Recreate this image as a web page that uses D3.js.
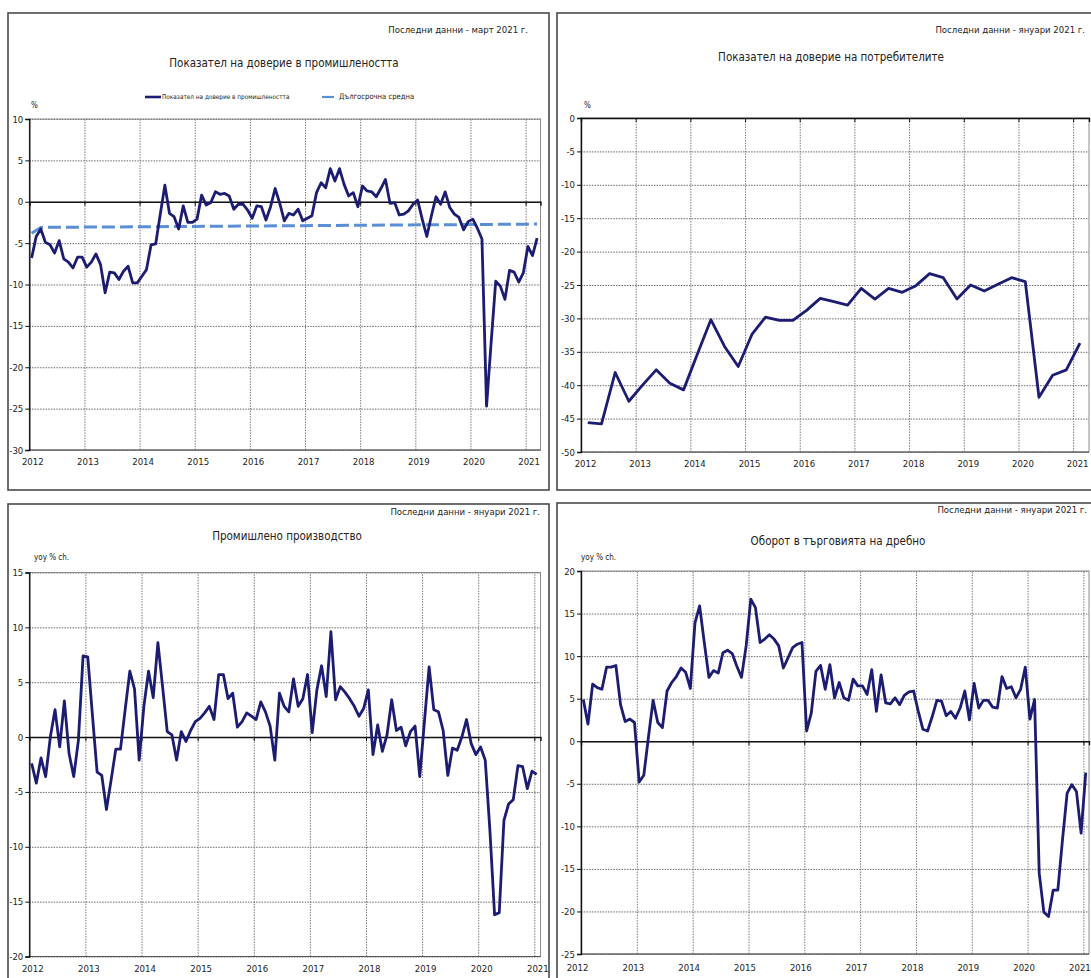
<!DOCTYPE html>
<html>
<head>
<meta charset="utf-8">
<script src="https://cdn.jsdelivr.net/npm/d3@7"></script>
<style>
  body { margin: 0; background: #fff; }
  svg { display: block; }
  text { font-family: "DejaVu Sans Condensed", "DejaVu Sans", sans-serif; fill: #222; }
</style>
</head>
<body>
<svg id="chart" width="1091" height="978"></svg>
<script>
// Tick labels on the time axis
const yearTicks = [2012, 2013, 2014, 2015, 2016, 2017, 2018, 2019, 2020, 2021];

// Business confidence in industry, monthly, Jan 2012 - Mar 2021
const industryConfidence = [
  -6.8, -4.2, -3.3, -4.9, -5.2, -6.2, -4.7, -6.9, -7.3, -8.0, -6.7, -6.7,
  -7.9, -7.3, -6.3, -7.6, -11.0, -8.5, -8.6, -9.4, -8.4, -7.8, -9.8, -9.8,
  -9.0, -8.2, -5.2, -5.1, -1.5, 2.0, -1.4, -1.8, -3.3, -0.5, -2.5, -2.5,
  -2.1, 0.8, -0.4, -0.1, 1.2, 0.9, 1.0, 0.7, -0.9, -0.3, -0.3, -1.0,
  -2.0, -0.5, -0.6, -2.2, -0.6, 1.6, -0.2, -2.3, -1.4, -1.6, -0.9, -2.3,
  -2.0, -1.7, 1.1, 2.3, 1.7, 4.0, 2.5, 4.0, 2.1, 0.7, 1.1, -0.6,
  1.9, 1.3, 1.2, 0.6, 1.6, 2.7, -0.2, -0.1, -1.6, -1.5, -1.1, -0.3,
  0.2, -2.1, -4.2, -1.7, 0.6, -0.3, 1.2, -0.7, -1.5, -1.9, -3.4, -2.4,
  -2.1, -3.2, -4.5, -24.7, -17.0, -9.6, -10.2, -11.8, -8.3, -8.5, -9.7, -8.6,
  -5.4, -6.5, -4.4
];
// Long-term average (month index, value)
const longTermIdx = [0, 2, 110];
const longTermAvg = [-3.8, -3.1, -2.7];

// Consumer confidence, quarterly, Q1 2012 - Q1 2021
const consumerConfidence = [
  -45.6, -45.8, -38.1, -42.4,
  -40.0, -37.7, -39.7, -40.7,
  -35.4, -30.2, -34.2, -37.2,
  -32.4, -29.8, -30.3, -30.3,
  -28.8, -27.0, -27.5, -28.0,
  -25.5, -27.1, -25.5, -26.1,
  -25.1, -23.3, -23.9, -27.1,
  -25.0, -25.9, -24.9, -23.9,
  -24.5, -41.8, -38.5, -37.7,
  -33.7
];

// Industrial production, yoy % ch., monthly, Jan 2012 - Jan 2021
const industrialProduction = [
  -2.4, -4.2, -1.9, -3.6, 0.0, 2.5, -0.9, 3.3, -1.5, -3.6, -0.3, 7.4,
  7.3, 2.0, -3.2, -3.5, -6.6, -3.9, -1.1, -1.1, 2.5, 6.0, 4.4, -2.1,
  2.8, 6.0, 3.6, 8.6, 4.6, 0.5, 0.2, -2.1, 0.5, -0.4, 0.6, 1.4,
  1.7, 2.2, 2.8, 1.6, 5.7, 5.7, 3.5, 4.0, 0.9, 1.4, 2.2, 1.9,
  1.6, 3.2, 2.3, 1.0, -2.1, 4.0, 2.8, 2.3, 5.3, 2.8, 3.5, 5.7,
  0.4, 4.3, 6.5, 3.7, 9.6, 3.4, 4.6, 4.1, 3.5, 2.8, 1.9, 2.6,
  4.3, -1.6, 1.1, -1.3, 0.2, 3.4, 0.6, 0.9, -0.8, 0.5, 1.0, -3.6,
  1.4, 6.4, 2.5, 2.3, 0.6, -3.5, -1.0, -1.2, 0.0, 1.6, -0.6, -1.6,
  -0.9, -2.1, -8.5, -16.2, -16.0, -7.6, -6.1, -5.7, -2.6, -2.7, -4.7, -3.1,
  -3.4
];

// Retail trade turnover, yoy % ch., monthly, Jan 2012 - Jan 2021
const retailTrade = [
  4.9, 2.0, 6.7, 6.3, 6.1, 8.7, 8.7, 8.9, 4.3, 2.3, 2.6, 2.2,
  -4.8, -4.0, 0.5, 4.8, 2.2, 1.6, 5.9, 6.9, 7.6, 8.6, 8.1, 6.2,
  13.9, 15.9, 11.6, 7.5, 8.3, 8.0, 10.4, 10.7, 10.3, 8.8, 7.5, 11.2,
  16.7, 15.7, 11.6, 12.0, 12.5, 12.0, 11.2, 8.6, 9.8, 11.0, 11.4, 11.6,
  1.2, 3.3, 8.2, 8.9, 6.1, 9.0, 5.1, 6.9, 5.1, 4.8, 7.3, 6.5,
  6.5, 5.5, 8.4, 3.5, 7.8, 4.5, 4.4, 5.1, 4.3, 5.4, 5.8, 5.9,
  3.5, 1.4, 1.2, 2.9, 4.8, 4.7, 3.0, 3.5, 2.7, 3.9, 5.9, 2.5,
  6.8, 3.9, 4.8, 4.8, 4.0, 3.9, 7.6, 6.2, 6.4, 5.1, 6.1, 8.7,
  2.6, 4.9, -15.5, -20.1, -20.6, -17.5, -17.5, -11.6, -6.1, -5.1, -5.9, -10.8,
  -3.7
];

const monthPos = i => 2012 + (i + 0.5) / 12;
const quarterPos = i => 2012 + (i + 0.5) / 4;

const navy = "#1c1c72";
const lightBlue = "#5a8fd4";

const svg = d3.select("#chart");

const panels = [
  {
    box: [8, 13, 541, 477],
    left: 29.3, right: 540.5, top: 119, bottom: 450,
    xDomain: [2012, 2021.27], yDomain: [-30, 10], yStep: 5,
    note: "Последни данни - март 2021 г.", noteX: 528, noteY: 30,
    title: "Показател на доверие в промишлеността", titleX: 284, titleY: 63,
    unit: "%", unitX: 31, unitY: 105,
    yearY: 463, yearDx: 3,
    series: industryConfidence, pos: monthPos,
    legend: true
  },
  {
    box: [557, 13, 545, 477],
    left: 581, right: 1089, top: 118, bottom: 452,
    xDomain: [2012, 2021.29], yDomain: [-50, 0], yStep: 5,
    note: "Последни данни - януари 2021 г.", noteX: 1085, noteY: 30,
    title: "Показател на доверие на потребителите", titleX: 831, titleY: 57,
    unit: "%", unitX: 584, unitY: 105,
    yearY: 465, yearDx: 4,
    series: consumerConfidence, pos: quarterPos
  },
  {
    box: [8, 504, 541, 490],
    left: 29.3, right: 540.5, top: 572.5, bottom: 956.5,
    xDomain: [2012, 2021.11], yDomain: [-20, 15], yStep: 5,
    note: "Последни данни - януари 2021 г.", noteX: 540, noteY: 512,
    title: "Промишлено производство", titleX: 287, titleY: 536,
    unit: "yoy % ch.", unitX: 34, unitY: 557,
    yearY: 970, yearDx: 3,
    series: industrialProduction, pos: monthPos
  },
  {
    box: [557, 503, 545, 490],
    left: 581, right: 1089, top: 571, bottom: 954,
    xDomain: [2012, 2021.1], yDomain: [-25, 20], yStep: 5,
    note: "Последни данни - януари 2021 г.", noteX: 1087, noteY: 510,
    title: "Оборот в търговията на дребно", titleX: 838, titleY: 541,
    unit: "yoy % ch.", unitX: 581, unitY: 557,
    yearY: 969, yearDx: -4,
    series: retailTrade, pos: monthPos
  }
];

function drawPanel(p) {
  const g = svg.append("g");

  // panel frame
  g.append("rect")
    .attr("x", p.box[0]).attr("y", p.box[1])
    .attr("width", p.box[2]).attr("height", p.box[3])
    .attr("fill", "#fff").attr("stroke", "#4a4a4a").attr("stroke-width", 1.6);

  const x = d3.scaleLinear().domain(p.xDomain).range([p.left, p.right]);
  const y = d3.scaleLinear().domain(p.yDomain).range([p.bottom, p.top]);
  const yTicks = d3.range(p.yDomain[0], p.yDomain[1] + 0.1, p.yStep);
  const w = p.right - p.left, h = p.bottom - p.top;

  // horizontal grid
  g.append("g")
    .attr("transform", `translate(${p.left},0)`)
    .call(d3.axisLeft(y).tickValues(yTicks).tickSize(-w).tickFormat(""))
    .call(a => a.select(".domain").remove())
    .selectAll("line")
    .attr("stroke", "#6a6a6a").attr("stroke-dasharray", "1.5,1.2");

  // vertical grid at years
  g.append("g")
    .attr("transform", `translate(0,${p.bottom})`)
    .call(d3.axisBottom(x).tickValues(yearTicks.slice(1)).tickSize(-h).tickFormat(""))
    .call(a => a.select(".domain").remove())
    .selectAll("line")
    .attr("stroke", "#7a7a7a").attr("stroke-dasharray", "1.5,1.2");

  // plot border
  g.append("rect")
    .attr("x", p.left).attr("y", p.top).attr("width", w).attr("height", h)
    .attr("fill", "none").attr("stroke", "#8a8a8a").attr("stroke-width", 1);

  // bottom border
  g.append("line")
    .attr("x1", p.left).attr("x2", p.right)
    .attr("y1", p.bottom).attr("y2", p.bottom)
    .attr("stroke", "#555").attr("stroke-width", 1.2);

  // category axis crossing at zero, with year ticks
  g.append("g")
    .attr("transform", `translate(0,${y(0)})`)
    .call(d3.axisBottom(x).tickValues(yearTicks).tickSize(4).tickFormat(""))
    .call(a => a.select(".domain").attr("stroke", "#111").attr("stroke-width", 1.4))
    .selectAll("line").attr("stroke", "#111");

  // value axis
  g.append("g")
    .attr("transform", `translate(${p.left},0)`)
    .call(d3.axisLeft(y).tickValues(yTicks).tickSize(4).tickPadding(2).tickFormat(d => String(d)))
    .call(a => a.select(".domain").attr("stroke", "#111").attr("stroke-width", 1.4))
    .call(a => a.selectAll("line").attr("stroke", "#111"))
    .selectAll("text")
    .attr("font-size", 9.5).attr("fill", "#222")
    .style("font-family", "'DejaVu Sans Condensed', sans-serif");

  // year labels
  g.append("g")
    .attr("transform", `translate(${p.yearDx},${p.yearY - 5})`)
    .call(d3.axisBottom(x).tickValues(yearTicks).tickSize(0).tickPadding(0).tickFormat(d => String(d)))
    .call(a => a.select(".domain").remove())
    .selectAll("text")
    .attr("font-size", 9.5).attr("fill", "#222")
    .style("font-family", "'DejaVu Sans Condensed', sans-serif");

  // long-term average (industry panel only)
  if (p.legend) {
    g.append("path")
      .datum(longTermAvg)
      .attr("fill", "none")
      .attr("stroke", lightBlue).attr("stroke-width", 3)
      .attr("stroke-dasharray", "13,5")
      .attr("d", d3.line().x((d, i) => x(monthPos(longTermIdx[i]))).y(d => y(d)));
  }

  // data line
  g.append("path")
    .datum(p.series)
    .attr("fill", "none")
    .attr("stroke", navy).attr("stroke-width", 2.8)
    .attr("stroke-linejoin", "round")
    .attr("d", d3.line().x((d, i) => x(p.pos(i))).y(d => y(d)));

  // texts
  g.append("text").attr("x", p.noteX).attr("y", p.noteY)
    .attr("text-anchor", "end").attr("dominant-baseline", "middle")
    .attr("font-size", 9.5).text(p.note);
  g.append("text").attr("x", p.titleX).attr("y", p.titleY)
    .attr("text-anchor", "middle").attr("dominant-baseline", "middle")
    .attr("font-size", 11.5).text(p.title);
  g.append("text").attr("x", p.unitX).attr("y", p.unitY)
    .attr("dominant-baseline", "middle")
    .attr("font-size", 8).text(p.unit);

  if (p.legend) {
    const ly = 97;
    g.append("line").attr("x1", 145).attr("x2", 161).attr("y1", ly).attr("y2", ly)
      .attr("stroke", navy).attr("stroke-width", 2.6);
    g.append("text").attr("x", 162).attr("y", ly).attr("dominant-baseline", "middle")
      .attr("font-size", 6.4).text("Показател на доверие в промишлеността");
    g.append("line").attr("x1", 322).attr("x2", 334).attr("y1", ly).attr("y2", ly)
      .attr("stroke", lightBlue).attr("stroke-width", 2.2);
    g.append("text").attr("x", 339).attr("y", ly).attr("dominant-baseline", "middle")
      .attr("font-size", 7.6).text("Дългосрочна средна");
  }
}

panels.forEach(drawPanel);
</script>
</body>
</html>
